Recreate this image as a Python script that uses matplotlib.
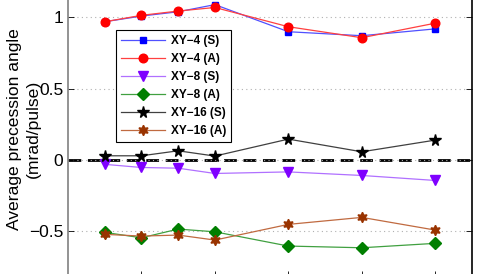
import matplotlib
matplotlib.use("Agg")
import matplotlib.pyplot as plt

plt.rcParams['font.family'] = ['Liberation Sans', 'DejaVu Sans']

# x positions of the measurements
x_vals = [1.5, 2, 2.5, 3, 4, 5, 6]
x_ticks = [2, 3, 4, 5, 6]
y_ticks = [-0.5, 0, 0.5, 1]

# average precession angle (mrad/pulse)
xy4_s = [0.97, 1.01, 1.04, 1.09, 0.90, 0.872, 0.92]
xy4_a = [0.97, 1.015, 1.045, 1.07, 0.935, 0.858, 0.96]
xy8_s = [-0.03, -0.052, -0.057, -0.094, -0.083, -0.108, -0.143]
xy8_a = [-0.507, -0.545, -0.484, -0.503, -0.603, -0.615, -0.584]
xy16_s = [0.03, 0.03, 0.065, 0.028, 0.147, 0.058, 0.14]
xy16_a = [-0.521, -0.533, -0.526, -0.561, -0.451, -0.402, -0.491]

W, H = 491, 274
fig = plt.figure(figsize=(W / 100, H / 100), dpi=100)

# axes runs past the figure edges (cropped reference)
y_lo, y_hi = -0.82, 1.2
px_per_unit = 142.6
bottom_px = 277
ax_h = (y_hi - y_lo) * px_per_unit
ax = fig.add_axes([68 / W, (H - bottom_px) / H, (472 - 68) / W, ax_h / H])

series = [
    (xy4_s, 'XY\u22124 (S)', 's', '#0000ff', '#5050ff', 5),
    (xy4_a, 'XY\u22124 (A)', 'o', '#ff0000', '#ff4040', 6.2),
    (xy8_s, 'XY\u22128 (S)', 'v', '#7f00ff', '#b070ff', 7.5),
    (xy8_a, 'XY\u22128 (A)', 'D', '#007f00', '#40a040', 6),
    (xy16_s, 'XY\u221216 (S)', '*', '#000000', '#404040', 8.5),
    (xy16_a, 'XY\u221216 (A)', (6, 1, 0), '#993300', '#c06a40', 7.5),
]

ax.axhline(0, color='black', lw=2.0, ls=(0, (4.6, 2.4)), zorder=1)

for vals, lab, mk, mc, lc, ms in series:
    ax.plot(x_vals, vals, color=lc, lw=0.9, marker=mk, ms=ms,
            markerfacecolor=mc, markeredgecolor=mc, label=lab, zorder=3)

ax.set_xlim(1, 6.5)
ax.set_ylim(y_lo, y_hi)
ax.set_xticks(x_ticks)
ax.set_yticks(y_ticks)
ax.set_yticklabels(['\u22120.5', '0', '0.5', '1'])
ax.tick_params(axis='both', direction='in', length=4, width=0.6,
               labelsize=12.5, right=True, top=True)
ax.tick_params(axis='x', labelbottom=False)
ax.yaxis.grid(True, ls=(0, (1, 3)), color='#b0b0b0', lw=0.8)
ax.spines['left'].set_color('#808080')
ax.spines['left'].set_linewidth(1.2)
ax.spines['right'].set_linewidth(1.2)

ax.set_ylabel('Average precession angle\n(mrad/pulse)', fontsize=12.6,
              linespacing=1.3)
ax.yaxis.set_label_coords(-0.068, 0.515)

leg = ax.legend(loc='upper left', bbox_to_anchor=(42 / 404, 1 - 35 / ax_h),
                fancybox=False, framealpha=1, edgecolor='black',
                prop={'weight': 'bold', 'size': 8.5}, handlelength=3.7,
                labelspacing=0.5, borderpad=0.45, handletextpad=0.5)
leg.get_frame().set_linewidth(0.8)

fig.savefig('out.png', dpi=100)
